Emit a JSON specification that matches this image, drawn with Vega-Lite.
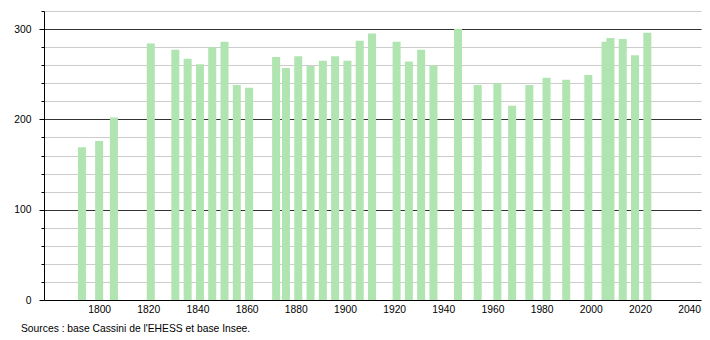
{
  "$schema": "https://vega.github.io/schema/vega-lite/v6.json",
  "width": 657,
  "height": 289,
  "autosize": "none",
  "padding": {"left": 44, "top": 11, "right": 9, "bottom": 40},
  "background": "white",
  "config": {
    "view": {"stroke": null},
    "font": "Liberation Sans"
  },
  "title": {
    "text": "Sources : base Cassini de l'EHESS et base Insee.",
    "orient": "bottom",
    "anchor": "start",
    "frame": "group",
    "dx": -23,
    "offset": 10,
    "fontSize": 10.3,
    "fontWeight": "normal",
    "font": "Liberation Sans",
    "color": "#000"
  },
  "data": {
    "values": [
      {"year": 1793, "pop": 169},
      {"year": 1800, "pop": 176},
      {"year": 1806, "pop": 202},
      {"year": 1821, "pop": 284},
      {"year": 1831, "pop": 277},
      {"year": 1836, "pop": 267},
      {"year": 1841, "pop": 261},
      {"year": 1846, "pop": 280},
      {"year": 1851, "pop": 286},
      {"year": 1856, "pop": 238},
      {"year": 1861, "pop": 235},
      {"year": 1872, "pop": 269},
      {"year": 1876, "pop": 257},
      {"year": 1881, "pop": 270},
      {"year": 1886, "pop": 259},
      {"year": 1891, "pop": 265},
      {"year": 1896, "pop": 270},
      {"year": 1901, "pop": 265},
      {"year": 1906, "pop": 287},
      {"year": 1911, "pop": 295},
      {"year": 1921, "pop": 286},
      {"year": 1926, "pop": 264},
      {"year": 1931, "pop": 277},
      {"year": 1936, "pop": 260},
      {"year": 1946, "pop": 300},
      {"year": 1954, "pop": 238},
      {"year": 1962, "pop": 240},
      {"year": 1968, "pop": 215},
      {"year": 1975, "pop": 238},
      {"year": 1982, "pop": 246},
      {"year": 1990, "pop": 244},
      {"year": 1999, "pop": 249},
      {"year": 2006, "pop": 286},
      {"year": 2008, "pop": 290},
      {"year": 2013, "pop": 289},
      {"year": 2018, "pop": 271},
      {"year": 2023, "pop": 296}
    ]
  },
  "mark": {"type": "bar", "orient": "vertical", "size": 8, "color": "#b0e4b0"},
  "encoding": {
    "x": {
      "field": "year",
      "type": "quantitative",
      "scale": {"domain": [1779.6, 2042.8], "nice": false, "zero": false},
      "axis": {
        "title": null,
        "values": [1800, 1820, 1840, 1860, 1880, 1900, 1920, 1940, 1960, 1980, 2000, 2020, 2040],
        "format": "d",
        "grid": false,
        "ticks": false,
        "labelPadding": 4,
        "labelFontSize": 10.3,
        "labelColor": "#000",
        "domainColor": "#000",
        "labelFlush": false
      }
    },
    "y": {
      "field": "pop",
      "type": "quantitative",
      "scale": {"domain": [0, 320], "nice": false},
      "axis": {
        "title": null,
        "values": [0, 20, 40, 60, 80, 100, 120, 140, 160, 180, 200, 220, 240, 260, 280, 300, 320],
        "labelExpr": "datum.value % 100 === 0 ? datum.label : ''",
        "grid": true,
        "gridColor": {"condition": {"test": "datum.value % 100 === 0 && datum.value > 0", "value": "#333333"}, "value": "#cccccc"},
        "gridWidth": 1,
        "tickSize": {"condition": {"test": "datum.value % 100 === 0", "value": 5}, "value": 3},
        "tickColor": "#000",
        "domainColor": "#000",
        "labelPadding": 8,
        "labelFontSize": 10.3,
        "labelColor": "#000",
        "labelFlush": false
      }
    }
  }
}
